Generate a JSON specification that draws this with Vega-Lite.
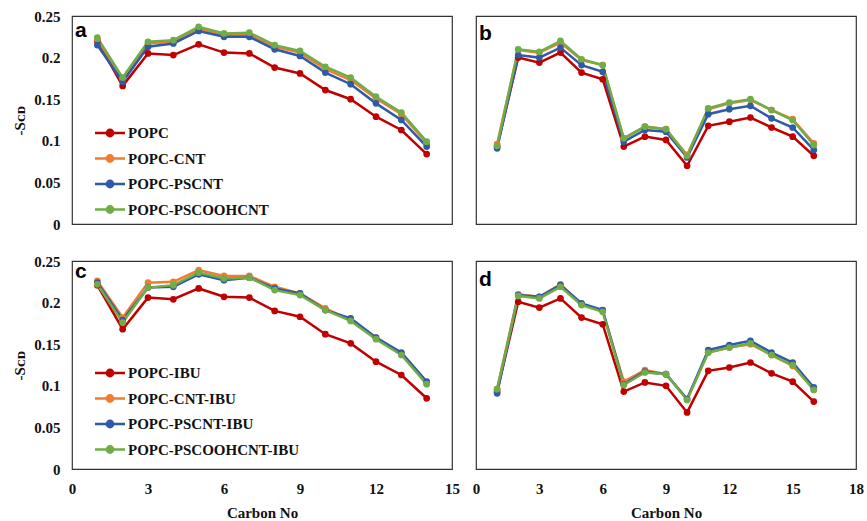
{
  "$schema": "https://vega.github.io/schema/vega-lite/v6.json",
  "padding": {"left": 12, "top": 8, "right": 0, "bottom": 3},
  "background": "white",
  "config": {
    "view": {"stroke": "#333333", "strokeWidth": 1.2},
    "axis": {"grid": false, "ticks": false, "domain": false, "labelFont": "Liberation Serif", "labelFontWeight": "bold", "labelFontSize": 15, "labelColor": "#111", "titleFont": "Liberation Serif", "titleFontWeight": "bold", "titleFontSize": 15, "titleColor": "#111", "labelPadding": 12},
    "legend": {"labelFont": "Liberation Serif", "labelFontWeight": "bold", "labelFontSize": 15, "labelColor": "#111", "labelLimit": 300, "orient": "none", "legendX": 29, "rowPadding": 7.5, "symbolSize": 225, "labelOffset": 9, "padding": 0,
      "symbolStrokeWidth": 2.5,
      "symbolStrokeColor": {"expr": "test(/PSCOOHCNT/, datum.value) ? '#70ad47' : test(/PSCNT/, datum.value) ? '#2e5aa8' : test(/CNT/, datum.value) ? '#ed7d31' : '#c00000'"}},
    "title": {"font": "Liberation Sans", "fontWeight": "bold", "fontSize": 21, "anchor": "start", "color": "#000", "frame": "group", "baseline": "top", "dx": 3, "dy": 26, "offset": 0}
  },
  "datasets": {
    "top": [
      {"c": 1, "v": 0.220, "s": "POPC", "p": "a"}, {"c": 2, "v": 0.166, "s": "POPC", "p": "a"}, {"c": 3, "v": 0.205, "s": "POPC", "p": "a"}, {"c": 4, "v": 0.203, "s": "POPC", "p": "a"}, {"c": 5, "v": 0.216, "s": "POPC", "p": "a"}, {"c": 6, "v": 0.206, "s": "POPC", "p": "a"}, {"c": 7, "v": 0.205, "s": "POPC", "p": "a"}, {"c": 8, "v": 0.188, "s": "POPC", "p": "a"}, {"c": 9, "v": 0.181, "s": "POPC", "p": "a"}, {"c": 10, "v": 0.161, "s": "POPC", "p": "a"}, {"c": 11, "v": 0.150, "s": "POPC", "p": "a"}, {"c": 12, "v": 0.129, "s": "POPC", "p": "a"}, {"c": 13, "v": 0.113, "s": "POPC", "p": "a"}, {"c": 14, "v": 0.084, "s": "POPC", "p": "a"},
      {"c": 1, "v": 0.222, "s": "POPC-CNT", "p": "a"}, {"c": 2, "v": 0.174, "s": "POPC-CNT", "p": "a"}, {"c": 3, "v": 0.217, "s": "POPC-CNT", "p": "a"}, {"c": 4, "v": 0.219, "s": "POPC-CNT", "p": "a"}, {"c": 5, "v": 0.235, "s": "POPC-CNT", "p": "a"}, {"c": 6, "v": 0.227, "s": "POPC-CNT", "p": "a"}, {"c": 7, "v": 0.227, "s": "POPC-CNT", "p": "a"}, {"c": 8, "v": 0.213, "s": "POPC-CNT", "p": "a"}, {"c": 9, "v": 0.206, "s": "POPC-CNT", "p": "a"}, {"c": 10, "v": 0.186, "s": "POPC-CNT", "p": "a"}, {"c": 11, "v": 0.173, "s": "POPC-CNT", "p": "a"}, {"c": 12, "v": 0.151, "s": "POPC-CNT", "p": "a"}, {"c": 13, "v": 0.132, "s": "POPC-CNT", "p": "a"}, {"c": 14, "v": 0.097, "s": "POPC-CNT", "p": "a"},
      {"c": 1, "v": 0.215, "s": "POPC-PSCNT", "p": "a"}, {"c": 2, "v": 0.171, "s": "POPC-PSCNT", "p": "a"}, {"c": 3, "v": 0.213, "s": "POPC-PSCNT", "p": "a"}, {"c": 4, "v": 0.217, "s": "POPC-PSCNT", "p": "a"}, {"c": 5, "v": 0.232, "s": "POPC-PSCNT", "p": "a"}, {"c": 6, "v": 0.225, "s": "POPC-PSCNT", "p": "a"}, {"c": 7, "v": 0.225, "s": "POPC-PSCNT", "p": "a"}, {"c": 8, "v": 0.210, "s": "POPC-PSCNT", "p": "a"}, {"c": 9, "v": 0.202, "s": "POPC-PSCNT", "p": "a"}, {"c": 10, "v": 0.182, "s": "POPC-PSCNT", "p": "a"}, {"c": 11, "v": 0.168, "s": "POPC-PSCNT", "p": "a"}, {"c": 12, "v": 0.145, "s": "POPC-PSCNT", "p": "a"}, {"c": 13, "v": 0.125, "s": "POPC-PSCNT", "p": "a"}, {"c": 14, "v": 0.093, "s": "POPC-PSCNT", "p": "a"},
      {"c": 1, "v": 0.224, "s": "POPC-PSCOOHCNT", "p": "a"}, {"c": 2, "v": 0.176, "s": "POPC-PSCOOHCNT", "p": "a"}, {"c": 3, "v": 0.219, "s": "POPC-PSCOOHCNT", "p": "a"}, {"c": 4, "v": 0.221, "s": "POPC-PSCOOHCNT", "p": "a"}, {"c": 5, "v": 0.237, "s": "POPC-PSCOOHCNT", "p": "a"}, {"c": 6, "v": 0.229, "s": "POPC-PSCOOHCNT", "p": "a"}, {"c": 7, "v": 0.230, "s": "POPC-PSCOOHCNT", "p": "a"}, {"c": 8, "v": 0.215, "s": "POPC-PSCOOHCNT", "p": "a"}, {"c": 9, "v": 0.208, "s": "POPC-PSCOOHCNT", "p": "a"}, {"c": 10, "v": 0.189, "s": "POPC-PSCOOHCNT", "p": "a"}, {"c": 11, "v": 0.176, "s": "POPC-PSCOOHCNT", "p": "a"}, {"c": 12, "v": 0.153, "s": "POPC-PSCOOHCNT", "p": "a"}, {"c": 13, "v": 0.134, "s": "POPC-PSCOOHCNT", "p": "a"}, {"c": 14, "v": 0.099, "s": "POPC-PSCOOHCNT", "p": "a"},
      {"c": 1, "v": 0.093, "s": "POPC", "p": "b"}, {"c": 2, "v": 0.200, "s": "POPC", "p": "b"}, {"c": 3, "v": 0.194, "s": "POPC", "p": "b"}, {"c": 4, "v": 0.206, "s": "POPC", "p": "b"}, {"c": 5, "v": 0.182, "s": "POPC", "p": "b"}, {"c": 6, "v": 0.174, "s": "POPC", "p": "b"}, {"c": 7, "v": 0.093, "s": "POPC", "p": "b"}, {"c": 8, "v": 0.105, "s": "POPC", "p": "b"}, {"c": 9, "v": 0.101, "s": "POPC", "p": "b"}, {"c": 10, "v": 0.070, "s": "POPC", "p": "b"}, {"c": 11, "v": 0.118, "s": "POPC", "p": "b"}, {"c": 12, "v": 0.123, "s": "POPC", "p": "b"}, {"c": 13, "v": 0.128, "s": "POPC", "p": "b"}, {"c": 14, "v": 0.116, "s": "POPC", "p": "b"}, {"c": 15, "v": 0.105, "s": "POPC", "p": "b"}, {"c": 16, "v": 0.082, "s": "POPC", "p": "b"},
      {"c": 1, "v": 0.096, "s": "POPC-CNT", "p": "b"}, {"c": 2, "v": 0.209, "s": "POPC-CNT", "p": "b"}, {"c": 3, "v": 0.206, "s": "POPC-CNT", "p": "b"}, {"c": 4, "v": 0.218, "s": "POPC-CNT", "p": "b"}, {"c": 5, "v": 0.197, "s": "POPC-CNT", "p": "b"}, {"c": 6, "v": 0.191, "s": "POPC-CNT", "p": "b"}, {"c": 7, "v": 0.103, "s": "POPC-CNT", "p": "b"}, {"c": 8, "v": 0.117, "s": "POPC-CNT", "p": "b"}, {"c": 9, "v": 0.114, "s": "POPC-CNT", "p": "b"}, {"c": 10, "v": 0.083, "s": "POPC-CNT", "p": "b"}, {"c": 11, "v": 0.138, "s": "POPC-CNT", "p": "b"}, {"c": 12, "v": 0.145, "s": "POPC-CNT", "p": "b"}, {"c": 13, "v": 0.149, "s": "POPC-CNT", "p": "b"}, {"c": 14, "v": 0.137, "s": "POPC-CNT", "p": "b"}, {"c": 15, "v": 0.126, "s": "POPC-CNT", "p": "b"}, {"c": 16, "v": 0.097, "s": "POPC-CNT", "p": "b"},
      {"c": 1, "v": 0.091, "s": "POPC-PSCNT", "p": "b"}, {"c": 2, "v": 0.203, "s": "POPC-PSCNT", "p": "b"}, {"c": 3, "v": 0.200, "s": "POPC-PSCNT", "p": "b"}, {"c": 4, "v": 0.212, "s": "POPC-PSCNT", "p": "b"}, {"c": 5, "v": 0.191, "s": "POPC-PSCNT", "p": "b"}, {"c": 6, "v": 0.183, "s": "POPC-PSCNT", "p": "b"}, {"c": 7, "v": 0.099, "s": "POPC-PSCNT", "p": "b"}, {"c": 8, "v": 0.113, "s": "POPC-PSCNT", "p": "b"}, {"c": 9, "v": 0.111, "s": "POPC-PSCNT", "p": "b"}, {"c": 10, "v": 0.080, "s": "POPC-PSCNT", "p": "b"}, {"c": 11, "v": 0.132, "s": "POPC-PSCNT", "p": "b"}, {"c": 12, "v": 0.138, "s": "POPC-PSCNT", "p": "b"}, {"c": 13, "v": 0.142, "s": "POPC-PSCNT", "p": "b"}, {"c": 14, "v": 0.127, "s": "POPC-PSCNT", "p": "b"}, {"c": 15, "v": 0.116, "s": "POPC-PSCNT", "p": "b"}, {"c": 16, "v": 0.089, "s": "POPC-PSCNT", "p": "b"},
      {"c": 1, "v": 0.094, "s": "POPC-PSCOOHCNT", "p": "b"}, {"c": 2, "v": 0.210, "s": "POPC-PSCOOHCNT", "p": "b"}, {"c": 3, "v": 0.207, "s": "POPC-PSCOOHCNT", "p": "b"}, {"c": 4, "v": 0.220, "s": "POPC-PSCOOHCNT", "p": "b"}, {"c": 5, "v": 0.198, "s": "POPC-PSCOOHCNT", "p": "b"}, {"c": 6, "v": 0.191, "s": "POPC-PSCOOHCNT", "p": "b"}, {"c": 7, "v": 0.103, "s": "POPC-PSCOOHCNT", "p": "b"}, {"c": 8, "v": 0.117, "s": "POPC-PSCOOHCNT", "p": "b"}, {"c": 9, "v": 0.114, "s": "POPC-PSCOOHCNT", "p": "b"}, {"c": 10, "v": 0.082, "s": "POPC-PSCOOHCNT", "p": "b"}, {"c": 11, "v": 0.139, "s": "POPC-PSCOOHCNT", "p": "b"}, {"c": 12, "v": 0.146, "s": "POPC-PSCOOHCNT", "p": "b"}, {"c": 13, "v": 0.150, "s": "POPC-PSCOOHCNT", "p": "b"}, {"c": 14, "v": 0.137, "s": "POPC-PSCOOHCNT", "p": "b"}, {"c": 15, "v": 0.125, "s": "POPC-PSCOOHCNT", "p": "b"}, {"c": 16, "v": 0.095, "s": "POPC-PSCOOHCNT", "p": "b"}
    ],
    "bottom": [
      {"c": 1, "v": 0.221, "s": "POPC-IBU", "p": "c"}, {"c": 2, "v": 0.168, "s": "POPC-IBU", "p": "c"}, {"c": 3, "v": 0.206, "s": "POPC-IBU", "p": "c"}, {"c": 4, "v": 0.204, "s": "POPC-IBU", "p": "c"}, {"c": 5, "v": 0.217, "s": "POPC-IBU", "p": "c"}, {"c": 6, "v": 0.207, "s": "POPC-IBU", "p": "c"}, {"c": 7, "v": 0.206, "s": "POPC-IBU", "p": "c"}, {"c": 8, "v": 0.190, "s": "POPC-IBU", "p": "c"}, {"c": 9, "v": 0.183, "s": "POPC-IBU", "p": "c"}, {"c": 10, "v": 0.162, "s": "POPC-IBU", "p": "c"}, {"c": 11, "v": 0.151, "s": "POPC-IBU", "p": "c"}, {"c": 12, "v": 0.129, "s": "POPC-IBU", "p": "c"}, {"c": 13, "v": 0.113, "s": "POPC-IBU", "p": "c"}, {"c": 14, "v": 0.085, "s": "POPC-IBU", "p": "c"},
      {"c": 1, "v": 0.226, "s": "POPC-CNT-IBU", "p": "c"}, {"c": 2, "v": 0.182, "s": "POPC-CNT-IBU", "p": "c"}, {"c": 3, "v": 0.224, "s": "POPC-CNT-IBU", "p": "c"}, {"c": 4, "v": 0.225, "s": "POPC-CNT-IBU", "p": "c"}, {"c": 5, "v": 0.239, "s": "POPC-CNT-IBU", "p": "c"}, {"c": 6, "v": 0.232, "s": "POPC-CNT-IBU", "p": "c"}, {"c": 7, "v": 0.232, "s": "POPC-CNT-IBU", "p": "c"}, {"c": 8, "v": 0.219, "s": "POPC-CNT-IBU", "p": "c"}, {"c": 9, "v": 0.211, "s": "POPC-CNT-IBU", "p": "c"}, {"c": 10, "v": 0.193, "s": "POPC-CNT-IBU", "p": "c"}, {"c": 11, "v": 0.179, "s": "POPC-CNT-IBU", "p": "c"}, {"c": 12, "v": 0.158, "s": "POPC-CNT-IBU", "p": "c"}, {"c": 13, "v": 0.139, "s": "POPC-CNT-IBU", "p": "c"}, {"c": 14, "v": 0.104, "s": "POPC-CNT-IBU", "p": "c"},
      {"c": 1, "v": 0.224, "s": "POPC-PSCNT-IBU", "p": "c"}, {"c": 2, "v": 0.179, "s": "POPC-PSCNT-IBU", "p": "c"}, {"c": 3, "v": 0.218, "s": "POPC-PSCNT-IBU", "p": "c"}, {"c": 4, "v": 0.219, "s": "POPC-PSCNT-IBU", "p": "c"}, {"c": 5, "v": 0.234, "s": "POPC-PSCNT-IBU", "p": "c"}, {"c": 6, "v": 0.227, "s": "POPC-PSCNT-IBU", "p": "c"}, {"c": 7, "v": 0.230, "s": "POPC-PSCNT-IBU", "p": "c"}, {"c": 8, "v": 0.217, "s": "POPC-PSCNT-IBU", "p": "c"}, {"c": 9, "v": 0.211, "s": "POPC-PSCNT-IBU", "p": "c"}, {"c": 10, "v": 0.191, "s": "POPC-PSCNT-IBU", "p": "c"}, {"c": 11, "v": 0.181, "s": "POPC-PSCNT-IBU", "p": "c"}, {"c": 12, "v": 0.158, "s": "POPC-PSCNT-IBU", "p": "c"}, {"c": 13, "v": 0.140, "s": "POPC-PSCNT-IBU", "p": "c"}, {"c": 14, "v": 0.105, "s": "POPC-PSCNT-IBU", "p": "c"},
      {"c": 1, "v": 0.222, "s": "POPC-PSCOOHCNT-IBU", "p": "c"}, {"c": 2, "v": 0.176, "s": "POPC-PSCOOHCNT-IBU", "p": "c"}, {"c": 3, "v": 0.218, "s": "POPC-PSCOOHCNT-IBU", "p": "c"}, {"c": 4, "v": 0.221, "s": "POPC-PSCOOHCNT-IBU", "p": "c"}, {"c": 5, "v": 0.236, "s": "POPC-PSCOOHCNT-IBU", "p": "c"}, {"c": 6, "v": 0.229, "s": "POPC-PSCOOHCNT-IBU", "p": "c"}, {"c": 7, "v": 0.230, "s": "POPC-PSCOOHCNT-IBU", "p": "c"}, {"c": 8, "v": 0.215, "s": "POPC-PSCOOHCNT-IBU", "p": "c"}, {"c": 9, "v": 0.209, "s": "POPC-PSCOOHCNT-IBU", "p": "c"}, {"c": 10, "v": 0.191, "s": "POPC-PSCOOHCNT-IBU", "p": "c"}, {"c": 11, "v": 0.178, "s": "POPC-PSCOOHCNT-IBU", "p": "c"}, {"c": 12, "v": 0.156, "s": "POPC-PSCOOHCNT-IBU", "p": "c"}, {"c": 13, "v": 0.137, "s": "POPC-PSCOOHCNT-IBU", "p": "c"}, {"c": 14, "v": 0.102, "s": "POPC-PSCOOHCNT-IBU", "p": "c"},
      {"c": 1, "v": 0.093, "s": "POPC-IBU", "p": "d"}, {"c": 2, "v": 0.201, "s": "POPC-IBU", "p": "d"}, {"c": 3, "v": 0.194, "s": "POPC-IBU", "p": "d"}, {"c": 4, "v": 0.205, "s": "POPC-IBU", "p": "d"}, {"c": 5, "v": 0.182, "s": "POPC-IBU", "p": "d"}, {"c": 6, "v": 0.174, "s": "POPC-IBU", "p": "d"}, {"c": 7, "v": 0.093, "s": "POPC-IBU", "p": "d"}, {"c": 8, "v": 0.104, "s": "POPC-IBU", "p": "d"}, {"c": 9, "v": 0.100, "s": "POPC-IBU", "p": "d"}, {"c": 10, "v": 0.068, "s": "POPC-IBU", "p": "d"}, {"c": 11, "v": 0.118, "s": "POPC-IBU", "p": "d"}, {"c": 12, "v": 0.122, "s": "POPC-IBU", "p": "d"}, {"c": 13, "v": 0.128, "s": "POPC-IBU", "p": "d"}, {"c": 14, "v": 0.115, "s": "POPC-IBU", "p": "d"}, {"c": 15, "v": 0.105, "s": "POPC-IBU", "p": "d"}, {"c": 16, "v": 0.081, "s": "POPC-IBU", "p": "d"},
      {"c": 1, "v": 0.096, "s": "POPC-CNT-IBU", "p": "d"}, {"c": 2, "v": 0.210, "s": "POPC-CNT-IBU", "p": "d"}, {"c": 3, "v": 0.207, "s": "POPC-CNT-IBU", "p": "d"}, {"c": 4, "v": 0.222, "s": "POPC-CNT-IBU", "p": "d"}, {"c": 5, "v": 0.198, "s": "POPC-CNT-IBU", "p": "d"}, {"c": 6, "v": 0.190, "s": "POPC-CNT-IBU", "p": "d"}, {"c": 7, "v": 0.105, "s": "POPC-CNT-IBU", "p": "d"}, {"c": 8, "v": 0.119, "s": "POPC-CNT-IBU", "p": "d"}, {"c": 9, "v": 0.114, "s": "POPC-CNT-IBU", "p": "d"}, {"c": 10, "v": 0.084, "s": "POPC-CNT-IBU", "p": "d"}, {"c": 11, "v": 0.140, "s": "POPC-CNT-IBU", "p": "d"}, {"c": 12, "v": 0.146, "s": "POPC-CNT-IBU", "p": "d"}, {"c": 13, "v": 0.150, "s": "POPC-CNT-IBU", "p": "d"}, {"c": 14, "v": 0.137, "s": "POPC-CNT-IBU", "p": "d"}, {"c": 15, "v": 0.124, "s": "POPC-CNT-IBU", "p": "d"}, {"c": 16, "v": 0.096, "s": "POPC-CNT-IBU", "p": "d"},
      {"c": 1, "v": 0.091, "s": "POPC-PSCNT-IBU", "p": "d"}, {"c": 2, "v": 0.209, "s": "POPC-PSCNT-IBU", "p": "d"}, {"c": 3, "v": 0.207, "s": "POPC-PSCNT-IBU", "p": "d"}, {"c": 4, "v": 0.221, "s": "POPC-PSCNT-IBU", "p": "d"}, {"c": 5, "v": 0.199, "s": "POPC-PSCNT-IBU", "p": "d"}, {"c": 6, "v": 0.191, "s": "POPC-PSCNT-IBU", "p": "d"}, {"c": 7, "v": 0.102, "s": "POPC-PSCNT-IBU", "p": "d"}, {"c": 8, "v": 0.117, "s": "POPC-PSCNT-IBU", "p": "d"}, {"c": 9, "v": 0.114, "s": "POPC-PSCNT-IBU", "p": "d"}, {"c": 10, "v": 0.084, "s": "POPC-PSCNT-IBU", "p": "d"}, {"c": 11, "v": 0.143, "s": "POPC-PSCNT-IBU", "p": "d"}, {"c": 12, "v": 0.149, "s": "POPC-PSCNT-IBU", "p": "d"}, {"c": 13, "v": 0.154, "s": "POPC-PSCNT-IBU", "p": "d"}, {"c": 14, "v": 0.140, "s": "POPC-PSCNT-IBU", "p": "d"}, {"c": 15, "v": 0.128, "s": "POPC-PSCNT-IBU", "p": "d"}, {"c": 16, "v": 0.098, "s": "POPC-PSCNT-IBU", "p": "d"},
      {"c": 1, "v": 0.096, "s": "POPC-PSCOOHCNT-IBU", "p": "d"}, {"c": 2, "v": 0.208, "s": "POPC-PSCOOHCNT-IBU", "p": "d"}, {"c": 3, "v": 0.205, "s": "POPC-PSCOOHCNT-IBU", "p": "d"}, {"c": 4, "v": 0.219, "s": "POPC-PSCOOHCNT-IBU", "p": "d"}, {"c": 5, "v": 0.197, "s": "POPC-PSCOOHCNT-IBU", "p": "d"}, {"c": 6, "v": 0.189, "s": "POPC-PSCOOHCNT-IBU", "p": "d"}, {"c": 7, "v": 0.101, "s": "POPC-PSCOOHCNT-IBU", "p": "d"}, {"c": 8, "v": 0.116, "s": "POPC-PSCOOHCNT-IBU", "p": "d"}, {"c": 9, "v": 0.114, "s": "POPC-PSCOOHCNT-IBU", "p": "d"}, {"c": 10, "v": 0.083, "s": "POPC-PSCOOHCNT-IBU", "p": "d"}, {"c": 11, "v": 0.140, "s": "POPC-PSCOOHCNT-IBU", "p": "d"}, {"c": 12, "v": 0.146, "s": "POPC-PSCOOHCNT-IBU", "p": "d"}, {"c": 13, "v": 0.151, "s": "POPC-PSCOOHCNT-IBU", "p": "d"}, {"c": 14, "v": 0.137, "s": "POPC-PSCOOHCNT-IBU", "p": "d"}, {"c": 15, "v": 0.125, "s": "POPC-PSCOOHCNT-IBU", "p": "d"}, {"c": 16, "v": 0.095, "s": "POPC-PSCOOHCNT-IBU", "p": "d"}
    ]
  },
  "resolve": {"scale": {"color": "independent"}, "legend": {"color": "independent"}},
  "vconcat": [
    {
      "bounds": "flush",
      "hconcat": [
        {
          "title": {"text": "a", "dy": 36},
          "width": 380, "height": 208,
          "data": {"name": "top"},
          "transform": [{"filter": "datum.p == 'a'"}],
          "mark": {"type": "line", "strokeWidth": 2.5, "point": {"size": 45, "filled": true}},
          "encoding": {
            "x": {"field": "c", "type": "quantitative", "scale": {"domain": [0, 15], "nice": false}, "axis": null},
            "y": {"field": "v", "type": "quantitative", "scale": {"domain": [0, 0.25], "nice": false}, "axis": {"values": [0, 0.05, 0.1, 0.15, 0.2, 0.25], "format": "~g", "title": "-Sᴄᴅ", "titlePadding": 6, "labelFlush": false}},
            "color": {"field": "s", "type": "nominal", "sort": null,
              "scale": {"domain": ["POPC", "POPC-CNT", "POPC-PSCNT", "POPC-PSCOOHCNT"], "range": ["#c00000", "#ed7d31", "#2e5aa8", "#70ad47"]},
              "legend": {"title": null, "legendY": 108, "symbolType": "M-2,0H2M-0.42,0A0.42,0.42 0 1,1 0.42,0A0.42,0.42 0 1,1 -0.42,0Z"}}
          }
        },
        {
          "title": {"text": "b", "dy": 32},
          "width": 380, "height": 208,
          "data": {"name": "top"},
          "transform": [{"filter": "datum.p == 'b'"}],
          "mark": {"type": "line", "strokeWidth": 2.5, "point": {"size": 45, "filled": true}},
          "encoding": {
            "x": {"field": "c", "type": "quantitative", "scale": {"domain": [0, 18], "nice": false}, "axis": null},
            "y": {"field": "v", "type": "quantitative", "scale": {"domain": [0, 0.25], "nice": false}, "axis": null},
            "color": {"field": "s", "type": "nominal", "sort": null,
              "scale": {"domain": ["POPC", "POPC-CNT", "POPC-PSCNT", "POPC-PSCOOHCNT"], "range": ["#c00000", "#ed7d31", "#2e5aa8", "#70ad47"]},
              "legend": null}
          }
        }
      ],
      "spacing": 24
    },
    {
      "bounds": "flush",
      "hconcat": [
        {
          "title": {"text": "c", "dy": 32},
          "width": 380, "height": 208,
          "data": {"name": "bottom"},
          "transform": [{"filter": "datum.p == 'c'"}],
          "mark": {"type": "line", "strokeWidth": 2.5, "point": {"size": 45, "filled": true}},
          "encoding": {
            "x": {"field": "c", "type": "quantitative", "scale": {"domain": [0, 15], "nice": false}, "axis": {"values": [0, 3, 6, 9, 12, 15], "title": "Carbon No", "labelPadding": 12, "titlePadding": 9, "labelFlush": false}},
            "y": {"field": "v", "type": "quantitative", "scale": {"domain": [0, 0.25], "nice": false}, "axis": {"values": [0, 0.05, 0.1, 0.15, 0.2, 0.25], "format": "~g", "title": "-Sᴄᴅ", "titlePadding": 6, "labelFlush": false}},
            "color": {"field": "s", "type": "nominal", "sort": null,
              "scale": {"domain": ["POPC-IBU", "POPC-CNT-IBU", "POPC-PSCNT-IBU", "POPC-PSCOOHCNT-IBU"], "range": ["#c00000", "#ed7d31", "#2e5aa8", "#70ad47"]},
              "legend": {"title": null, "legendY": 103, "symbolType": "M-2,0H2M-0.42,0A0.42,0.42 0 1,1 0.42,0A0.42,0.42 0 1,1 -0.42,0Z"}}
          }
        },
        {
          "title": {"text": "d", "dy": 33},
          "width": 380, "height": 208,
          "data": {"name": "bottom"},
          "transform": [{"filter": "datum.p == 'd'"}],
          "mark": {"type": "line", "strokeWidth": 2.5, "point": {"size": 45, "filled": true}},
          "encoding": {
            "x": {"field": "c", "type": "quantitative", "scale": {"domain": [0, 18], "nice": false}, "axis": {"values": [0, 3, 6, 9, 12, 15, 18], "title": "Carbon No", "labelPadding": 12, "titlePadding": 9, "labelFlush": false}},
            "y": {"field": "v", "type": "quantitative", "scale": {"domain": [0, 0.25], "nice": false}, "axis": null},
            "color": {"field": "s", "type": "nominal", "sort": null,
              "scale": {"domain": ["POPC-IBU", "POPC-CNT-IBU", "POPC-PSCNT-IBU", "POPC-PSCOOHCNT-IBU"], "range": ["#c00000", "#ed7d31", "#2e5aa8", "#70ad47"]},
              "legend": null}
          }
        }
      ],
      "spacing": 24
    }
  ],
  "spacing": 20
}
